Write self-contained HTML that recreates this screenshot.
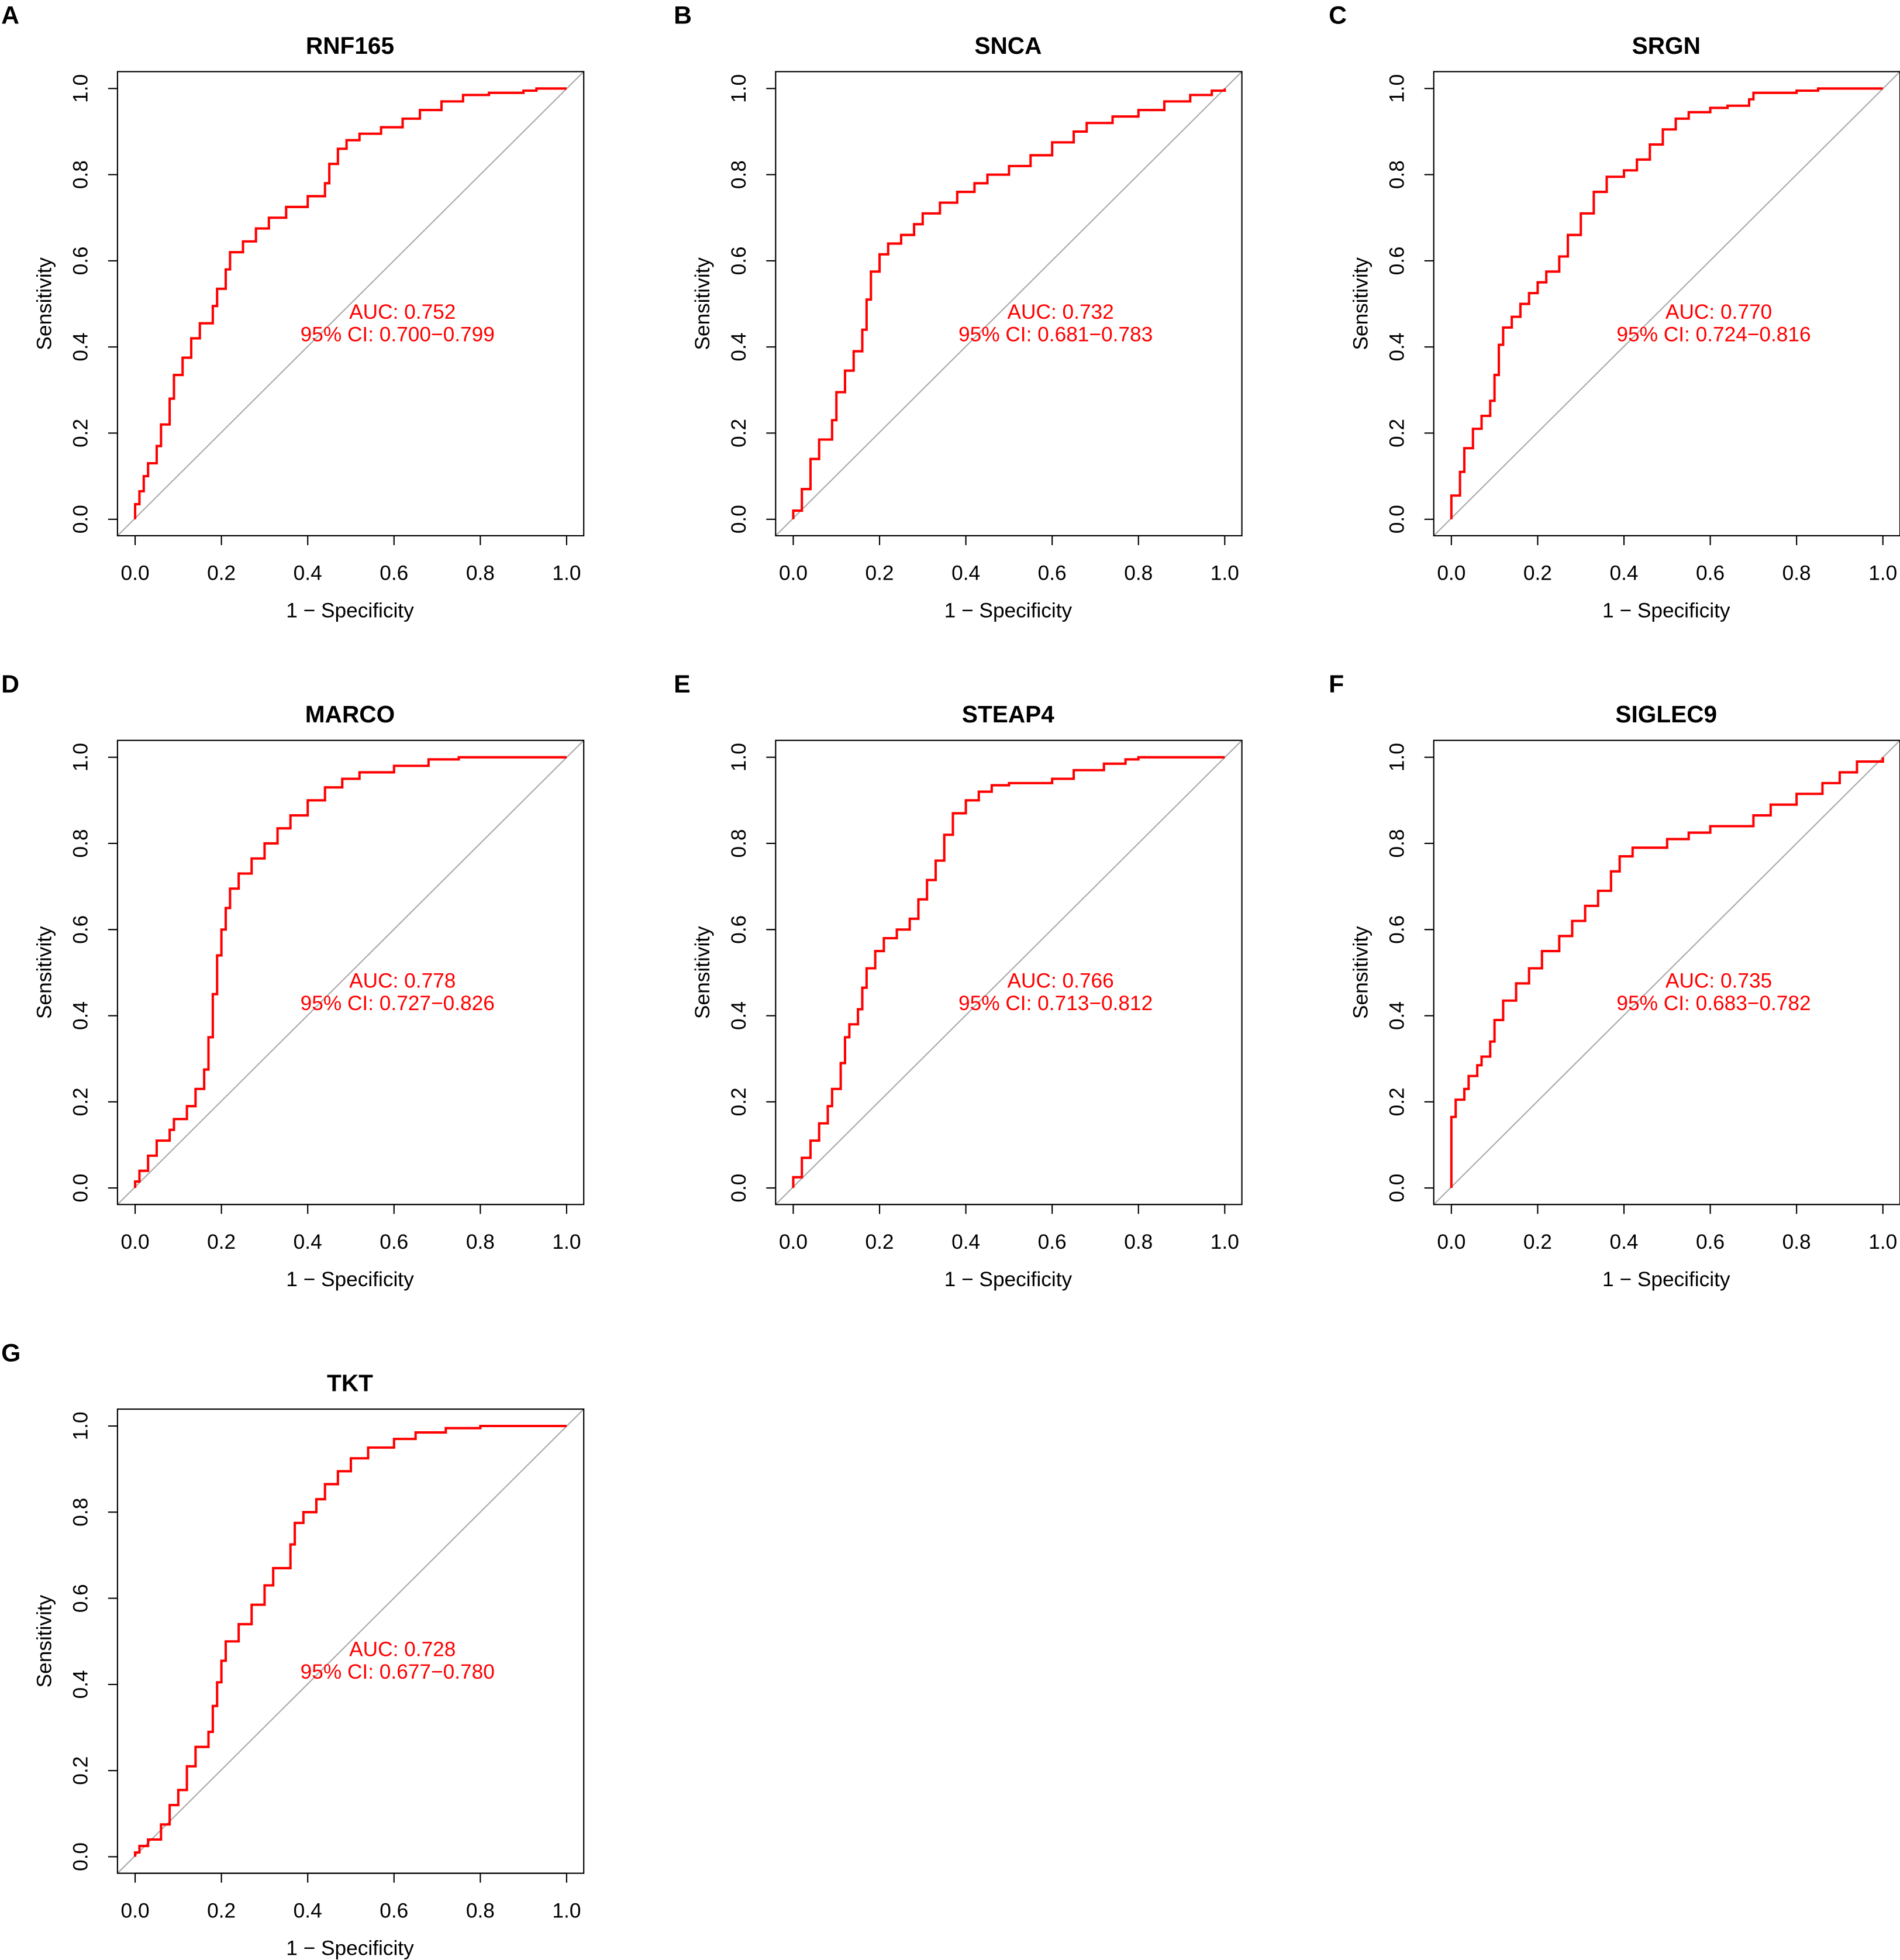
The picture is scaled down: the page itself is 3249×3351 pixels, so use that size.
<!DOCTYPE html>
<html><head><meta charset="utf-8">
<style>
html,body{margin:0;padding:0;background:#fff;}
svg{display:block;}
text{font-family:"Liberation Sans",Arial,sans-serif;}
</style></head>
<body>
<svg id="fig" width="3249" height="3351" viewBox="0 0 1520 1568" preserveAspectRatio="none" xmlns="http://www.w3.org/2000/svg"></svg>
<script>
const panelLetters = ["A","B","C","D","E","F","G"];
const panelTitles = ["RNF165","SNCA","SRGN","MARCO","STEAP4","SIGLEC9","TKT"];
const aucValues = ["0.752","0.732","0.770","0.778","0.766","0.735","0.728"];
const ciValues = ["0.700\u22120.799","0.681\u22120.783","0.724\u22120.816","0.727\u22120.826","0.713\u22120.812","0.683\u22120.782","0.677\u22120.780"];
const tickLabels = ["0.0","0.2","0.4","0.6","0.8","1.0"];
const tickValues = [0,0.2,0.4,0.6,0.8,1.0];

const fprA=[0,0,0.01,0.02,0.03,0.05,0.06,0.08,0.09,0.11,0.13,0.15,0.18,0.19,0.21,0.22,0.25,0.28,0.31,0.35,0.40,0.44,0.45,0.47,0.49,0.52,0.57,0.62,0.66,0.71,0.76,0.82,0.90,0.93,1];
const tprA=[0,0.02,0.05,0.08,0.12,0.14,0.20,0.24,0.32,0.35,0.40,0.44,0.47,0.52,0.55,0.61,0.63,0.66,0.69,0.71,0.74,0.76,0.80,0.85,0.87,0.89,0.90,0.92,0.94,0.96,0.98,0.99,0.99,1,1];
const fprB=[0,0.02,0.04,0.06,0.09,0.10,0.12,0.14,0.16,0.17,0.18,0.20,0.22,0.25,0.28,0.30,0.34,0.38,0.42,0.45,0.50,0.55,0.60,0.65,0.68,0.74,0.80,0.86,0.92,0.97,1];
const tprB=[0,0.04,0.10,0.18,0.19,0.27,0.32,0.37,0.41,0.47,0.55,0.60,0.63,0.65,0.67,0.70,0.72,0.75,0.77,0.79,0.81,0.83,0.86,0.89,0.91,0.93,0.94,0.96,0.98,0.99,1];
const fprC=[0,0,0.02,0.03,0.05,0.07,0.09,0.10,0.11,0.12,0.14,0.16,0.18,0.20,0.22,0.25,0.27,0.30,0.33,0.36,0.40,0.43,0.46,0.49,0.52,0.55,0.60,0.64,0.69,0.70,0.80,0.85,1];
const tprC=[0,0.03,0.08,0.14,0.19,0.23,0.25,0.30,0.37,0.44,0.45,0.49,0.51,0.54,0.56,0.59,0.63,0.69,0.73,0.79,0.80,0.82,0.85,0.89,0.92,0.94,0.95,0.96,0.96,0.99,0.99,1,1];
const fprD=[0,0.01,0.03,0.05,0.08,0.09,0.12,0.14,0.16,0.17,0.18,0.19,0.20,0.21,0.22,0.24,0.27,0.30,0.33,0.36,0.40,0.44,0.48,0.52,0.60,0.68,0.75,1];
const tprD=[0,0.03,0.05,0.10,0.12,0.15,0.17,0.21,0.25,0.30,0.40,0.50,0.58,0.62,0.68,0.71,0.75,0.78,0.82,0.85,0.88,0.92,0.94,0.96,0.97,0.99,1,1];
const fprE=[0,0.02,0.04,0.06,0.08,0.09,0.11,0.12,0.13,0.15,0.16,0.17,0.19,0.21,0.24,0.27,0.29,0.31,0.33,0.35,0.37,0.40,0.43,0.46,0.50,0.60,0.65,0.72,0.77,0.80,1];
const tprE=[0,0.05,0.09,0.13,0.17,0.21,0.25,0.33,0.37,0.39,0.44,0.49,0.53,0.57,0.59,0.61,0.64,0.70,0.73,0.79,0.85,0.89,0.91,0.93,0.94,0.94,0.96,0.98,0.99,1,1];
const fprF=[0,0,0.01,0.03,0.04,0.06,0.07,0.09,0.10,0.12,0.15,0.18,0.21,0.25,0.28,0.31,0.34,0.37,0.39,0.42,0.50,0.55,0.60,0.70,0.74,0.80,0.86,0.90,0.94,1];
const tprF=[0,0.13,0.20,0.21,0.25,0.27,0.30,0.31,0.37,0.41,0.46,0.49,0.53,0.57,0.60,0.64,0.67,0.71,0.76,0.78,0.80,0.82,0.83,0.85,0.88,0.90,0.93,0.95,0.98,1];
const fprG=[0,0.01,0.03,0.06,0.08,0.10,0.12,0.14,0.17,0.18,0.19,0.20,0.21,0.24,0.27,0.30,0.32,0.36,0.37,0.39,0.42,0.44,0.47,0.50,0.54,0.60,0.65,0.72,0.80,1];
const tprG=[0,0.02,0.03,0.05,0.10,0.14,0.17,0.25,0.26,0.32,0.38,0.43,0.48,0.52,0.56,0.61,0.65,0.69,0.76,0.79,0.81,0.85,0.88,0.91,0.94,0.96,0.98,0.99,1,1];
const fprs=[fprA,fprB,fprC,fprD,fprE,fprF,fprG];
const tprs=[tprA,tprB,tprC,tprD,tprE,tprF,tprG];

const NS="http://www.w3.org/2000/svg";
const svg=document.getElementById('fig');
function mk(tag,attrs,parent,txt){const e=document.createElementNS(NS,tag);for(const k in attrs)e.setAttribute(k,attrs[k]);if(txt!==undefined)e.textContent=txt;parent.appendChild(e);return e;}

const colX=[0,526.5,1053], rowY=[0,535,1070], letterX=[1,539,1063];
panelTitles.forEach((title,i)=>{
  const ox=colX[i%3], oy=rowY[Math.floor(i/3)];
  const sx=v=>ox+108.1+v*(453.3-108.1);
  const sy=v=>oy+415.4-v*(415.4-70.8);
  const g=mk('g',{},svg);
  
  
  const L=mk('text',{x:letterX[i%3],y:oy+19,'font-size':20,'font-weight':'bold'},g,panelLetters[i]);
  
  
  const T=mk('text',{x:ox+280,y:oy+43,'font-size':19,'font-weight':'bold','text-anchor':'middle'},g,title);
  
  
  const bx=ox+94, by=oy+57.3, bw=373, bh=371.3;
  const diag=mk('line',{x1:bx,y1:by+bh,x2:bx+bw,y2:by,stroke:'#aaaaaa','stroke-width':1},g);
  
  
  const fr=mk('rect',{x:bx,y:by,width:bw,height:bh,fill:'none',stroke:'#000','stroke-width':1},g);
  
  
  const xa=mk('g',{},g);
  
  
  mk('line',{x1:sx(0),y1:by+bh,x2:sx(1),y2:by+bh,stroke:'#000','stroke-width':1},xa);
  tickValues.forEach((v,j)=>{
    mk('line',{x1:sx(v),y1:by+bh,x2:sx(v),y2:by+bh+7.5,stroke:'#000','stroke-width':1},xa);
    const t=mk('text',{x:sx(v),y:oy+464,'font-size':16.5,'text-anchor':'middle'},xa,tickLabels[j]);
    
    
  });
  const xt=mk('text',{x:ox+280,y:oy+494,'font-size':16.5,'text-anchor':'middle'},g,'1 \u2212 Specificity');
  
  
  const ya=mk('g',{},g);
  
  
  tickValues.forEach((v,j)=>{
    mk('line',{x1:bx,y1:sy(v),x2:bx-7.5,y2:sy(v),stroke:'#000','stroke-width':1},ya);
    const t=mk('text',{x:ox+70,y:sy(v),'font-size':16.5,'text-anchor':'middle',transform:`rotate(-90 ${ox+70} ${sy(v)})`},ya,tickLabels[j]);
    
    
  });
  const ycy=oy+243;
  const yt=mk('text',{x:ox+41,y:ycy,'font-size':16.5,'text-anchor':'middle',transform:`rotate(-90 ${ox+41} ${ycy})`},g,'Sensitivity');
  
  
  const F=fprs[i], S=tprs[i];
  let d='M'+sx(F[0]).toFixed(2)+','+sy(S[0]).toFixed(2);
  for(let k=1;k<F.length;k++){
    const ym=(S[k-1]+S[k])/2;
    d+=' V'+sy(ym).toFixed(2)+' H'+sx(F[k]).toFixed(2)+' V'+sy(S[k]).toFixed(2);
  }
  const c=mk('path',{d:d,fill:'none',stroke:'#ff0000','stroke-width':1.9},g);
  
  
  const a1=mk('text',{x:ox+322,y:oy+255,'font-size':16.5,fill:'#ff0000','text-anchor':'middle'},g,'AUC: '+aucValues[i]);
  
  
  const a2=mk('text',{x:ox+318,y:oy+273,'font-size':16.5,fill:'#ff0000','text-anchor':'middle'},g,'95% CI: '+ciValues[i]);
  
  
});
</script>
</body></html>
